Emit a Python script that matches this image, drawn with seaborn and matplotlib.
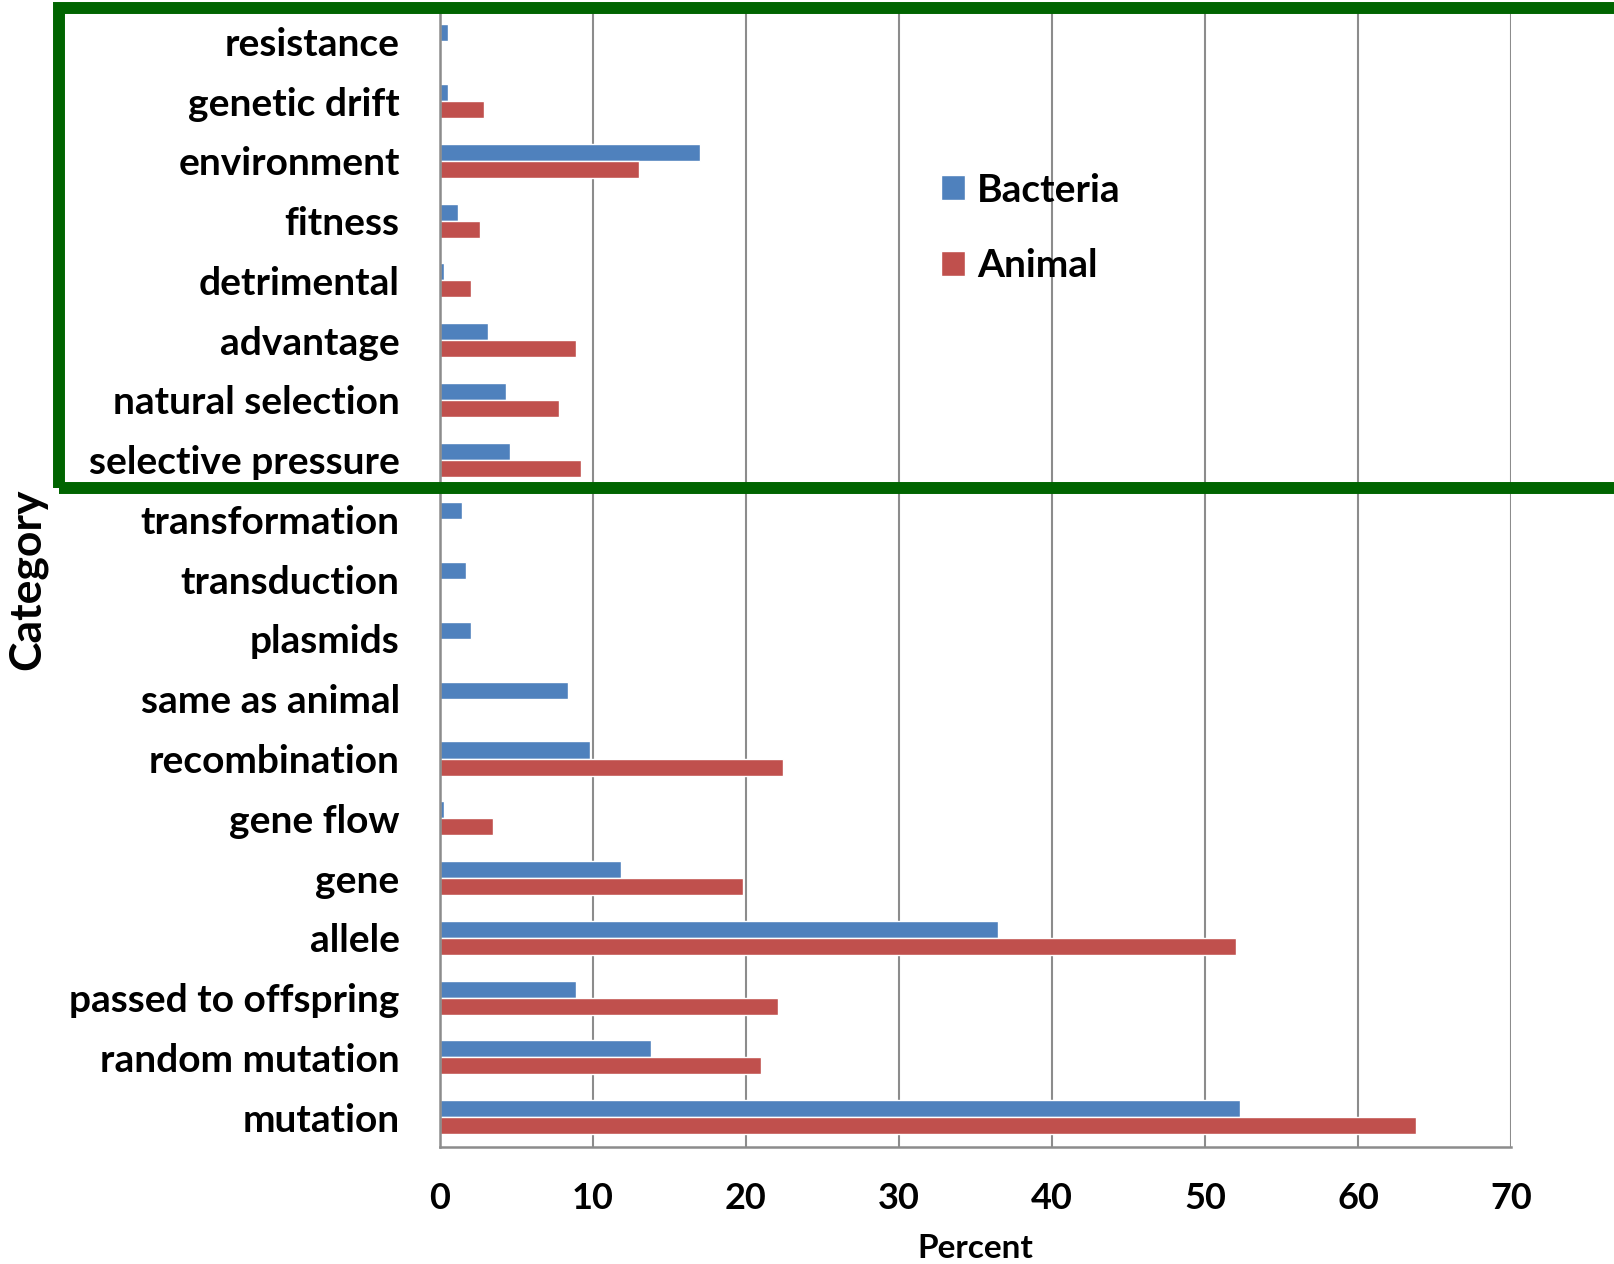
import numpy as np
import pandas as pd
import matplotlib
matplotlib.use("Agg")
import matplotlib.pyplot as plt
import matplotlib.patches as mpatches
from matplotlib.ticker import FixedLocator
import seaborn as sns

categories = ["resistance", "genetic drift", "environment", "fitness", "detrimental",
              "advantage", "natural selection", "selective pressure", "transformation",
              "transduction", "plasmids", "same as animal", "recombination", "gene flow",
              "gene", "allele", "passed to offspring", "random mutation", "mutation"]
bacteria = [0.55, 0.55, 17.0, 1.15, 0.25, 3.15, 4.3, 4.6, 1.45, 1.7, 2.0, 8.35,
            9.8, 0.25, 11.8, 36.5, 8.9, 13.8, 52.3]
animal = [np.nan, 2.85, 13.0, 2.6, 2.0, 8.9, 7.8, 9.2, np.nan, np.nan, np.nan, np.nan,
          22.4, 3.45, 19.8, 52.0, 22.1, 21.0, 63.8]
groups = ["Bacteria", "Animal"]
colors = ["#4F81BD", "#C0504D"]
xticks = [0, 10, 20, 30, 40, 50, 60, 70]

df = pd.DataFrame({
    "Category": categories * 2,
    "Percent": bacteria + animal,
    "Group": [groups[0]] * len(categories) + [groups[1]] * len(categories),
})

sns.set_style("white")
plt.rcParams["font.family"] = ["Lato", "DejaVu Sans"]
plt.rcParams["font.weight"] = "bold"
plt.rcParams["text.color"] = "black"
plt.rcParams["axes.labelcolor"] = "black"

fig = plt.figure(figsize=(16.14, 12.64), dpi=100)
ax = fig.add_axes([440 / 1614, 1 - 1147 / 1264, (1511 - 440) / 1614, (1147 - 11.4) / 1264])

sns.barplot(data=df, x="Percent", y="Category", hue="Group", order=categories,
            hue_order=groups, palette=colors, orient="h", width=0.57,
            saturation=1, dodge=True, ax=ax, legend=True)

ax.set_xlim(0, 70)
ax.set_ylim(len(categories) - 0.5, -0.5)
ax.xaxis.set_major_locator(FixedLocator(xticks))
ax.set_xticklabels([str(v) for v in xticks], fontsize=26, fontweight="bold")
ax.grid(axis="x", color="#8c8c8c", linewidth=1.5)
ax.set_axisbelow(True)

grey = "#8c8c8c"
for s in ["top", "right"]:
    ax.spines[s].set_visible(False)
for s in ["left", "bottom"]:
    ax.spines[s].set_color(grey)
    ax.spines[s].set_linewidth(1.8)

ax.tick_params(axis="x", length=8, width=1.5, color=grey, labelcolor="black",
               direction="out", pad=17)
ax.tick_params(axis="y", which="major", length=0, pad=29, labelsize=28, labelcolor="black")
ax.yaxis.set_minor_locator(FixedLocator(np.arange(-0.5, len(categories), 1.0)))
ax.tick_params(axis="y", which="minor", length=10, width=1.5, color=grey, direction="out")
for lab in ax.get_yticklabels():
    lab.set_fontweight("bold")

ax.set_xlabel("Percent", fontsize=24, fontweight="bold", color="black")
ax.xaxis.set_label_coords(0.5, -0.077)
ax.xaxis.label.set_va("top")
ax.set_ylabel("Category", fontsize=32, fontweight="bold", color="black")
ax.yaxis.set_label_coords((47 - 440) / (1511 - 440), 0.5)

leg = ax.legend(loc="center left", bbox_to_anchor=(906 / 1614, 1 - 228 / 1264),
                bbox_transform=fig.transFigure, frameon=False, fontsize=28,
                handlelength=0.62, handleheight=0.62, labelspacing=1.05, handletextpad=0.3)
for t in leg.get_texts():
    t.set_fontweight("bold")
    t.set_color("black")

rect = mpatches.Rectangle((59 / 1614, 1 - 487.5 / 1264), 1.2, (487.5 - 8) / 1264,
                          transform=fig.transFigure, fill=False, edgecolor="#006400",
                          linewidth=8.6, clip_on=False)
fig.add_artist(rect)

fig.savefig("out.png", dpi=100)
